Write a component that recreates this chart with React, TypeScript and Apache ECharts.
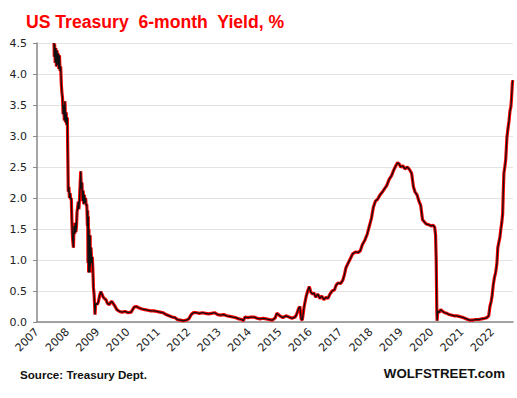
import React, { useEffect, useRef } from "react";
import * as echarts from "echarts";

// decimal year, yield %
const yieldSeries: [number, number][] = [
  [2007.56, 4.5], [2007.57, 4.28], [2007.58, 4.48], [2007.6, 4.18], [2007.62, 4.42], [2007.64, 4.12],
  [2007.66, 4.38], [2007.68, 4.15], [2007.7, 4.33], [2007.72, 4.08], [2007.74, 4.3], [2007.76, 4.05],
  [2007.78, 4.12], [2007.8, 3.85], [2007.82, 3.7], [2007.84, 3.62], [2007.86, 3.35], [2007.88, 3.5],
  [2007.9, 3.25], [2007.92, 3.56], [2007.94, 3.22], [2007.96, 3.38], [2007.98, 3.18], [2008.0, 3.3],
  [2008.01, 2.85], [2008.02, 2.5], [2008.03, 2.1], [2008.05, 2.18], [2008.07, 2.0], [2008.09, 2.08],
  [2008.11, 1.98], [2008.13, 2.0], [2008.15, 1.62], [2008.17, 1.35], [2008.19, 1.25], [2008.2, 1.2],
  [2008.22, 1.55], [2008.24, 1.42], [2008.26, 1.6], [2008.28, 1.45], [2008.3, 1.55], [2008.32, 1.78],
  [2008.34, 1.85], [2008.36, 1.94], [2008.38, 1.82], [2008.4, 1.98], [2008.42, 2.2], [2008.44, 2.43],
  [2008.46, 2.15], [2008.48, 2.25], [2008.5, 1.95], [2008.52, 2.12], [2008.54, 1.9], [2008.56, 2.05],
  [2008.58, 1.92], [2008.6, 2.0], [2008.62, 1.88], [2008.64, 1.9], [2008.66, 1.55], [2008.67, 1.8],
  [2008.68, 0.95], [2008.69, 1.7], [2008.7, 0.8], [2008.71, 1.5], [2008.72, 0.85], [2008.73, 1.35],
  [2008.74, 0.8], [2008.75, 1.4], [2008.76, 0.9], [2008.78, 1.2], [2008.8, 0.95], [2008.82, 1.05],
  [2008.84, 0.85], [2008.86, 0.55], [2008.88, 0.45], [2008.9, 0.25], [2008.91, 0.12], [2008.93, 0.28],
  [2008.95, 0.3], [2008.98, 0.28], [2009.02, 0.32], [2009.06, 0.42], [2009.1, 0.49], [2009.14, 0.45],
  [2009.18, 0.4], [2009.22, 0.38], [2009.27, 0.36], [2009.32, 0.3], [2009.38, 0.28], [2009.43, 0.32],
  [2009.47, 0.33], [2009.55, 0.27], [2009.63, 0.2], [2009.72, 0.17], [2009.8, 0.16], [2009.9, 0.17],
  [2010.0, 0.15], [2010.1, 0.16], [2010.2, 0.24], [2010.27, 0.25], [2010.35, 0.23], [2010.45, 0.21],
  [2010.55, 0.2], [2010.65, 0.19], [2010.75, 0.18], [2010.85, 0.18], [2010.95, 0.17], [2011.05, 0.16],
  [2011.15, 0.15], [2011.25, 0.12], [2011.35, 0.1], [2011.45, 0.08], [2011.55, 0.07], [2011.62, 0.04],
  [2011.72, 0.03], [2011.82, 0.02], [2011.92, 0.03], [2012.0, 0.05], [2012.08, 0.12], [2012.15, 0.15],
  [2012.25, 0.15], [2012.35, 0.14], [2012.45, 0.15], [2012.55, 0.14], [2012.65, 0.13], [2012.75, 0.14],
  [2012.85, 0.15], [2012.95, 0.12], [2013.05, 0.11], [2013.15, 0.12], [2013.25, 0.1], [2013.35, 0.09],
  [2013.45, 0.08], [2013.55, 0.07], [2013.65, 0.05], [2013.75, 0.04], [2013.8, 0.02], [2013.85, 0.08],
  [2013.95, 0.07], [2014.05, 0.08], [2014.15, 0.08], [2014.25, 0.06], [2014.35, 0.05], [2014.45, 0.06],
  [2014.55, 0.05], [2014.65, 0.04], [2014.75, 0.03], [2014.85, 0.07], [2014.9, 0.14], [2015.0, 0.1],
  [2015.1, 0.07], [2015.2, 0.1], [2015.3, 0.08], [2015.4, 0.06], [2015.5, 0.08], [2015.55, 0.12],
  [2015.62, 0.22], [2015.66, 0.25], [2015.7, 0.05], [2015.74, 0.03], [2015.8, 0.25], [2015.87, 0.42],
  [2015.93, 0.52], [2015.97, 0.57], [2016.02, 0.48], [2016.08, 0.45], [2016.12, 0.47], [2016.18, 0.4],
  [2016.25, 0.45], [2016.32, 0.38], [2016.38, 0.42], [2016.45, 0.36], [2016.52, 0.4], [2016.58, 0.38],
  [2016.65, 0.45], [2016.72, 0.5], [2016.8, 0.52], [2016.86, 0.6], [2016.92, 0.63], [2017.0, 0.62],
  [2017.07, 0.67], [2017.12, 0.75], [2017.18, 0.88], [2017.25, 0.95], [2017.32, 1.02], [2017.4, 1.1],
  [2017.5, 1.13], [2017.58, 1.12], [2017.65, 1.15], [2017.72, 1.25], [2017.8, 1.32], [2017.88, 1.42],
  [2017.95, 1.55], [2018.02, 1.68], [2018.08, 1.85], [2018.15, 1.95], [2018.22, 1.98], [2018.3, 2.05],
  [2018.38, 2.1], [2018.45, 2.15], [2018.52, 2.2], [2018.6, 2.3], [2018.68, 2.36], [2018.75, 2.45],
  [2018.82, 2.52], [2018.88, 2.57], [2018.93, 2.55], [2018.98, 2.5], [2019.05, 2.52], [2019.12, 2.47],
  [2019.2, 2.5], [2019.27, 2.46], [2019.34, 2.4], [2019.4, 2.18], [2019.45, 2.1], [2019.52, 2.05],
  [2019.58, 1.95], [2019.64, 1.88], [2019.7, 1.65], [2019.75, 1.62], [2019.82, 1.58], [2019.9, 1.57],
  [2019.98, 1.55], [2020.05, 1.56], [2020.1, 1.53], [2020.13, 1.4], [2020.15, 1.0], [2020.16, 0.6],
  [2020.17, 0.2], [2020.18, 0.02], [2020.2, 0.18], [2020.24, 0.15], [2020.3, 0.2], [2020.36, 0.17],
  [2020.43, 0.15], [2020.5, 0.14], [2020.58, 0.12], [2020.66, 0.11], [2020.74, 0.1], [2020.82, 0.1],
  [2020.9, 0.09], [2020.98, 0.08], [2021.05, 0.07], [2021.15, 0.05], [2021.25, 0.03], [2021.35, 0.03],
  [2021.45, 0.04], [2021.55, 0.04], [2021.65, 0.05], [2021.75, 0.06], [2021.82, 0.07], [2021.88, 0.1],
  [2021.92, 0.25], [2021.96, 0.33], [2021.99, 0.42], [2022.03, 0.6], [2022.07, 0.72], [2022.11, 0.8],
  [2022.15, 0.95], [2022.18, 1.2], [2022.22, 1.3], [2022.25, 1.37], [2022.28, 1.5], [2022.31, 1.6],
  [2022.34, 1.75], [2022.36, 2.1], [2022.38, 2.4], [2022.41, 2.5], [2022.44, 2.62], [2022.48, 2.98],
  [2022.51, 3.1], [2022.55, 3.25], [2022.58, 3.4], [2022.61, 3.47], [2022.63, 3.6], [2022.66, 3.86],
  [2022.675, 3.9],
];

const yearLabels: number[] = [2007, 2008, 2009, 2010, 2011, 2012, 2013, 2014, 2015, 2016, 2017, 2018, 2019, 2020, 2021, 2022];
const yTicks: number[] = [0, 0.5, 1, 1.5, 2, 2.5, 3, 3.5, 4, 4.5];

const FONT = "DejaVu Sans";
const TFONT = "Liberation Sans";

export default function App() {
  const ref = useRef<HTMLDivElement>(null);
  useEffect(() => {
    if (!ref.current) return;
    const chart = echarts.init(ref.current, undefined, { renderer: "svg" });
    chart.setOption({
      animation: false,
      backgroundColor: "#ffffff",
      title: {
        text: "US Treasury  6-month  Yield, %",
        left: 21,
        top: 8,
        textStyle: { color: "#ff0000", fontSize: 17.6, fontWeight: "bold", fontFamily: TFONT },
      },
      graphic: [
        {
          type: "text",
          left: 20,
          top: 368,
          style: { text: "Source: Treasury Dept.", fill: "#111", font: `bold 11.6px "${TFONT}"` },
        },
        {
          type: "text",
          right: 12,
          top: 367,
          style: { text: "WOLFSTREET.com", fill: "#111", font: `bold 13.3px "${TFONT}"` },
        },
      ],
      grid: { left: 37, right: 4, top: 43, bottom: 76, containLabel: false },
      xAxis: {
        type: "value",
        min: yearLabels[0],
        max: 2022.68,
        interval: 1,
        axisLine: { show: true, lineStyle: { color: "#888", width: 1.5 } },
        axisTick: { show: false },
        splitLine: { show: false },
        axisLabel: {
          rotate: 45,
          showMaxLabel: false,
          color: "#222",
          fontSize: 11,
          fontFamily: FONT,
          margin: 8,
          formatter: (v: number) => (yearLabels.includes(Math.round(v)) && Math.abs(v - Math.round(v)) < 1e-6 ? String(Math.round(v)) : ""),
        },
      },
      yAxis: {
        type: "value",
        min: yTicks[0],
        max: yTicks[yTicks.length - 1],
        interval: 0.5,
        axisLine: { show: true, lineStyle: { color: "#888", width: 1.5 } },
        axisTick: { show: true, length: 4, lineStyle: { color: "#888" } },
        splitLine: { show: true, lineStyle: { color: "#e3e3e3", width: 1 } },
        axisLabel: {
          color: "#222",
          fontSize: 11,
          fontFamily: FONT,
          margin: 10,
          formatter: (v: number) => v.toFixed(1),
        },
      },
      series: [
        {
          type: "line",
          data: yieldSeries,
          symbol: "none",
          lineStyle: { color: "#ff0000", width: 3.2 },
          z: 2,
        },
        {
          type: "line",
          data: yieldSeries,
          symbol: "none",
          lineStyle: { color: "#111111", width: 1.3 },
          z: 3,
        },
      ],
    });
    return () => chart.dispose();
  }, []);
  return <div ref={ref} style={{ width: 517, height: 398, position: "absolute", left: 0, top: 0 }} />;
}
